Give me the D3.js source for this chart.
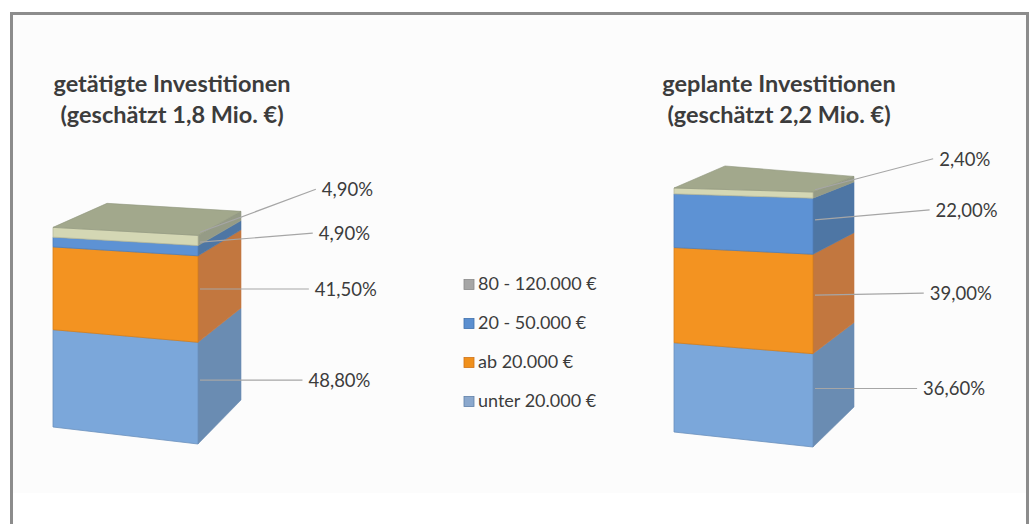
<!DOCTYPE html>
<html>
<head>
<meta charset="utf-8">
<script src="https://cdn.jsdelivr.net/npm/d3@7"></script>
<style>
  body { margin: 0; background: #fff; }
  svg { display: block; }
</style>
</head>
<body>
<svg id="vis"></svg>
<script>
const width = 1030;
const height = 524;

// data
const groups = ['getätigte Investitionen', 'geplante Investitionen'];
const totals = [1.8, 2.2]; // Mio. €
const categories = ['unter 20.000 €', 'ab 20.000 €', '20 - 50.000 €', '80 - 120.000 €'];
const sharesDone = [48.8, 41.5, 4.9, 4.9];
const sharesPlanned = [36.6, 39.0, 22.0, 2.4];
const shares = [sharesDone, sharesPlanned];

// colours per category (same order as categories)
const frontColors = ['#7ba7da', '#f39321', '#5d92d4', '#d4d7b4'];
const sideColors = ['#6a8cb2', '#c2773f', '#4e76a4', '#959b86'];
const legendColors = ['#8ba8cd', '#f0901c', '#5b8fd0', '#a6a6a6'];
const legendStroke = ['#5f80a8', '#cf7318', '#3f70ad', '#8a8a8a'];
const topColor = '#a2a88c';
const textColor = '#3c3c3c';

// box layout: four vertical edges (front-left, front-right, back-right, back-left)
const bars = [
  {x: {fl: 53, fr: 198, br: 241, bl: 107}, base: {fl: 427, fr: 444, br: 400, bl: 385}, titleX: 172, lift: [0, 0, 9, 43]},
  {x: {fl: 674, fr: 813, br: 854, bl: 725}, base: {fl: 432, fr: 447, br: 407, bl: 388}, titleX: 779, lift: [0, 2, 10, 31]}
];
const edgeFactor = {fl: 1, fr: 1.045, br: 0.945, bl: 0.91};
const hScale = d3.scaleLinear().domain([0, d3.max(totals)]).range([0, 244]);

const de = d3.formatLocale({decimal: ',', thousands: '.', grouping: [3], currency: ['', ' €']});
const fmtPct = de.format('.2f');
const fmtMio = de.format('.1f');

const svg = d3.select('#vis').attr('width', width).attr('height', height);

// background + frame
svg.append('rect').attr('x', 13).attr('y', 15).attr('width', 1014).attr('height', 478).attr('fill', '#fcfcfc');
svg.append('rect').attr('x', 11.5).attr('y', 13.5).attr('width', 1016).attr('height', 600)
  .attr('fill', 'none').attr('stroke', '#8c8c8c').attr('stroke-width', 3);

// stacked values in Mio. €
const table = groups.map((g, i) => {
  const sum = d3.sum(shares[i]);
  const row = {group: g};
  categories.forEach((c, j) => { row[c] = totals[i] * shares[i][j] / sum; });
  return row;
});
const stacked = d3.stack().keys(categories)(table);

const pt = (bar, edge, v) => [bar.x[edge], bar.base[edge] - hScale(v) * edgeFactor[edge]];
const poly = pts => pts.map(p => p.join(',')).join(' ');

bars.forEach((bar, i) => {
  const g = svg.append('g').attr('class', 'bar');
  const segs = stacked.map((s, j) => ({j, v0: s[i][0], v1: s[i][1], share: shares[i][j]}));

  // side face
  g.selectAll('polygon.side').data(segs).join('polygon')
    .attr('class', 'side')
    .attr('points', d => poly([pt(bar, 'fr', d.v0), pt(bar, 'br', d.v0), pt(bar, 'br', d.v1), pt(bar, 'fr', d.v1)]))
    .attr('fill', d => sideColors[d.j])
    .attr('stroke', d => sideColors[d.j]).attr('stroke-width', 0.6);

  // front face
  g.selectAll('polygon.front').data(segs).join('polygon')
    .attr('class', 'front')
    .attr('points', d => poly([pt(bar, 'fl', d.v0), pt(bar, 'fr', d.v0), pt(bar, 'fr', d.v1), pt(bar, 'fl', d.v1)]))
    .attr('fill', d => frontColors[d.j])
    .attr('stroke', d => d3.color(frontColors[d.j]).darker(0.4)).attr('stroke-width', 0.8);

  // top face
  const T = totals[i];
  g.append('polygon')
    .attr('points', poly([pt(bar, 'fl', T), pt(bar, 'fr', T), pt(bar, 'br', T), pt(bar, 'bl', T)]))
    .attr('fill', topColor).attr('stroke', '#8f957c').attr('stroke-width', 0.6);

  // data labels with leader lines
  segs.forEach(d => {
    const mid = (d.v0 + d.v1) / 2;
    const a = pt(bar, 'fr', mid), b = pt(bar, 'br', mid);
    const ay = a[1] + (b[1] - a[1]) / 3;
    const ly = ay - bar.lift[d.j];
    const ex = bar.x.fr + 100 + 0.07 * (bar.base.fr - ly);
    g.append('line')
      .attr('x1', bar.x.fr + 2).attr('y1', ay).attr('x2', ex).attr('y2', ly)
      .attr('stroke', '#a6a6a6').attr('stroke-width', 1.2);
    g.append('text')
      .attr('x', ex + 6).attr('y', ly + 7)
      .attr('fill', textColor)
      .style('font-family', 'Lato, sans-serif').style('font-size', '18.5px')
      .text(fmtPct(d.share) + '%');
  });

  // title
  const title = g.append('text')
    .attr('text-anchor', 'middle')
    .attr('fill', textColor)
    .style('font-family', 'Lato, sans-serif').style('font-weight', 700).style('font-size', '23.5px');
  title.append('tspan').attr('x', bar.titleX).attr('y', 92).text(groups[i]);
  title.append('tspan').attr('x', bar.titleX).attr('y', 123).text(`(geschätzt ${fmtMio(totals[i])} Mio. €)`);
});

// legend (reverse order, top category first)
const legendItems = categories.map((c, j) => ({c, j})).reverse();
const legend = svg.append('g').attr('class', 'legend');
const ly = d3.scalePoint().domain(legendItems.map(d => d.c)).range([290, 407]);
legend.selectAll('rect').data(legendItems).join('rect')
  .attr('x', 464).attr('y', d => ly(d.c) - 10.5)
  .attr('width', 10).attr('height', 10)
  .attr('fill', d => legendColors[d.j])
  .attr('stroke', d => legendStroke[d.j]).attr('stroke-width', 0.8);
legend.selectAll('text').data(legendItems).join('text')
  .attr('x', 478).attr('y', d => ly(d.c))
  .attr('fill', textColor)
  .style('font-family', 'Lato, sans-serif').style('font-size', '18px')
  .text(d => d.c);
</script>
</body>
</html>
